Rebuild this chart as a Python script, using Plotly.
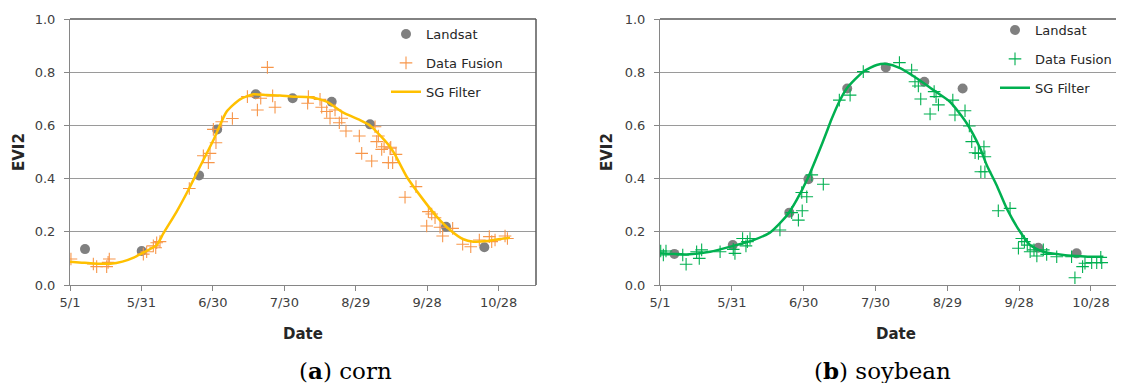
import plotly.graph_objects as go

# ---------------- data (x = days since May 1) ----------------
tick_days = [0, 30, 60, 90, 120, 150, 180]
tick_labels = ["5/1", "5/31", "6/30", "7/30", "8/29", "9/28", "10/28"]

corn_landsat_day = [6.3, 30.1, 54.2, 61.8, 78.0, 93.5, 109.9, 126.0, 157.9, 174.0]
corn_landsat_evi2 = [0.135, 0.128, 0.412, 0.585, 0.717, 0.702, 0.689, 0.604, 0.219, 0.142]

corn_fusion_day = [0.4, 9.8, 11.2, 15.4, 16.5, 16.0, 30.8, 32.2, 35.0, 36.4, 37.8, 36.0,
                   50.1, 56.0, 58.8, 58.1, 61.3, 60.2, 63.7, 68.2, 74.5, 78.7, 80.1, 82.9,
                   85.1, 86.1, 100.1, 99.8, 105.0, 105.7, 107.8, 109.2, 111.3, 113.1, 114.1,
                   115.9, 121.5, 128.1, 129.5, 128.8, 131.9, 134.4, 122.5, 126.7, 130.9,
                   133.7, 135.5, 134.7, 136.9, 140.7, 145.3, 150.5, 151.9, 153.3, 149.8,
                   155.4, 156.5, 160.7, 164.9, 168.3, 171.9, 176.1, 177.1, 178.5, 182.7, 183.7]
corn_fusion_evi2 = [0.098, 0.079, 0.069, 0.069, 0.098, 0.085, 0.116, 0.125, 0.147, 0.159, 0.163, 0.140,
                    0.363, 0.486, 0.495, 0.460, 0.535, 0.585, 0.614, 0.626, 0.708, 0.658, 0.702, 0.818,
                    0.711, 0.668, 0.708, 0.683, 0.698, 0.668, 0.652, 0.627, 0.658, 0.610, 0.627,
                    0.579, 0.560, 0.595, 0.560, 0.539, 0.520, 0.514, 0.495, 0.466, 0.510,
                    0.460, 0.460, 0.518, 0.491, 0.330, 0.370, 0.276, 0.267, 0.253, 0.222,
                    0.217, 0.184, 0.213, 0.153, 0.144, 0.169, 0.182, 0.163, 0.169, 0.184, 0.175]

corn_sg_day = [0, 5, 10, 17, 22, 27, 30.1, 36.4, 39.2, 44.8, 49.7, 53.2, 56, 60.5, 65.8, 71.4,
               77, 82.6, 88.2, 93.8, 100.8, 107.8, 114.8, 121.8, 126, 130.5, 134.4, 136.5,
               141.4, 148.4, 154, 159.6, 165.2, 169.4, 175, 180.6, 184.8]
corn_sg_evi2 = [0.087, 0.084, 0.081, 0.080, 0.088, 0.104, 0.119, 0.150, 0.194, 0.276, 0.357, 0.420,
                0.470, 0.550, 0.652, 0.698, 0.717, 0.714, 0.712, 0.708, 0.706, 0.689, 0.648,
                0.620, 0.600, 0.560, 0.520, 0.490, 0.407, 0.320, 0.257, 0.207, 0.172, 0.163,
                0.165, 0.173, 0.178]

soy_landsat_day = [6.0, 30.4, 54.0, 62.0, 78.2, 94.3, 110.4, 126.4, 158.0, 174.0]
soy_landsat_evi2 = [0.117, 0.150, 0.272, 0.398, 0.739, 0.818, 0.764, 0.739, 0.140, 0.119]

soy_fusion_day = [0.3, 1.4, 2.5, 9.5, 10.9, 15.3, 16.4, 17.4, 25.1, 30.6, 31.3, 34.5, 35.9,
                  36.5, 37.6, 50.1, 55.0, 57.8, 59.4, 59.2, 61.3, 63.4, 68.2, 74.9, 79.4,
                  84.9, 100.0, 105.1, 106.5, 107.9, 108.9, 112.8, 114.5, 115.3, 116.3, 122.3,
                  123.2, 127.4, 129.2, 130.2, 131.6, 133.0, 135.3, 135.7, 134.0, 135.7, 141.3,
                  146.2, 151.1, 152.2, 149.7, 153.4, 154.6, 156.2, 157.4, 160.1, 161.5, 165.7,
                  171.9, 173.3, 176.5, 177.5, 180.3, 182.4, 184.5, 184.1]
soy_fusion_evi2 = [0.128, 0.113, 0.128, 0.113, 0.078, 0.125, 0.100, 0.132, 0.125, 0.134, 0.119, 0.175, 0.147,
                   0.163, 0.175, 0.207, 0.272, 0.244, 0.279, 0.348, 0.332, 0.414, 0.379, 0.695, 0.714,
                   0.802, 0.836, 0.808, 0.764, 0.748, 0.699, 0.643, 0.727, 0.708, 0.677, 0.695,
                   0.639, 0.655, 0.598, 0.539, 0.497, 0.495, 0.520, 0.482, 0.426, 0.426, 0.279,
                   0.288, 0.175, 0.163, 0.138, 0.150, 0.125, 0.132, 0.109, 0.132, 0.115, 0.106,
                   0.106, 0.027, 0.069, 0.082, 0.084, 0.084, 0.084, 0.104]

soy_sg_day = [0, 11.1, 20.9, 30.6, 39, 45.9, 52.9, 57.1, 62, 66.1, 69.6, 71.5, 74.9, 78, 84.9,
              90.5, 94.7, 100.3, 107.2, 114.2, 121.1, 128.1, 133.7, 136.5, 140.6, 144.8,
              150.4, 154.6, 160.1, 168.5, 174, 179.6, 185.2]
soy_sg_evi2 = [0.119, 0.115, 0.125, 0.147, 0.169, 0.197, 0.260, 0.320, 0.407, 0.495, 0.575, 0.620,
               0.690, 0.739, 0.802, 0.827, 0.831, 0.815, 0.777, 0.733, 0.689, 0.608, 0.514,
               0.450, 0.375, 0.288, 0.200, 0.150, 0.125, 0.113, 0.109, 0.106, 0.106]

# ---------------- styling ----------------
PAGE_OFFSET = 8          # default body margin of the html page
W, H = 1124 - PAGE_OFFSET, 383 - PAGE_OFFSET
GRAY = "#808080"
ORANGE = "#F7964A"
GOLD = "#FFC000"
GREEN = "#00B050"
TICK_FONT = dict(family="DejaVu Sans", size=13, color="#404040")


def px_x(p):
    return (p - PAGE_OFFSET) / W


def px_y(p):
    return 1 - (p - PAGE_OFFSET) / H


fig = go.Figure()


def add_panel(xa, ya, leg, land_d, land_v, fus_d, fus_v, sg_d, sg_v, fus_col, sg_col):
    fig.add_trace(go.Scatter(x=land_d, y=land_v, mode="markers", name="Landsat",
                             marker=dict(symbol="circle", size=10, color=GRAY),
                             xaxis=xa, yaxis=ya, legend=leg, legendgroup=leg + "a"))
    fig.add_trace(go.Scatter(x=fus_d, y=fus_v, mode="markers", name="Data Fusion",
                             marker=dict(symbol="cross-thin", size=9, color=fus_col,
                                         line=dict(color=fus_col, width=1.1)),
                             xaxis=xa, yaxis=ya, legend=leg, legendgroup=leg + "b"))
    fig.add_trace(go.Scatter(x=sg_d, y=sg_v, mode="lines", name="SG Filter",
                             line=dict(color=sg_col, width=2.5, shape="spline", smoothing=0.6),
                             xaxis=xa, yaxis=ya, legend=leg, legendgroup=leg + "c"))


add_panel("x", "y", "legend", corn_landsat_day, corn_landsat_evi2, corn_fusion_day,
          corn_fusion_evi2, corn_sg_day, corn_sg_evi2, ORANGE, GOLD)
add_panel("x2", "y2", "legend2", soy_landsat_day, soy_landsat_evi2, soy_fusion_day,
          soy_fusion_evi2, soy_sg_day, soy_sg_evi2, GREEN, GREEN)

ydom = [px_y(285), px_y(19)]


def xaxis_cfg(dom, rng, anchor):
    return dict(domain=dom, range=rng, anchor=anchor, tickmode="array",
                tickvals=tick_days, ticktext=tick_labels, ticks="outside", ticklen=5,
                tickcolor="#868686", showline=True, linecolor="#868686", linewidth=1,
                showgrid=False, zeroline=False, tickfont=TICK_FONT, fixedrange=True,
                automargin=False)


def yaxis_cfg(anchor):
    return dict(domain=ydom, range=[0, 1], anchor=anchor, dtick=0.2, tick0=0,
                tickformat=".1f", ticks="outside", ticklen=5, tickcolor="#868686",
                showline=True, linecolor="#868686", linewidth=1, showgrid=True,
                gridcolor="#9A9A9A", gridwidth=1, zeroline=False, tickfont=TICK_FONT,
                ticklabelstandoff=6, fixedrange=True, automargin=False)


legend_common = dict(font=dict(family="DejaVu Sans", size=13, color="#262626"),
                     bgcolor="rgba(0,0,0,0)", borderwidth=0, tracegroupgap=9,
                     xanchor="left", yanchor="top", orientation="v")

annotations = []


def add_text(text, cx, cy, size, family, angle=0, color="#262626"):
    annotations.append(dict(text=text, x=px_x(cx), y=px_y(cy), xref="paper", yref="paper",
                            xanchor="center", yanchor="middle", showarrow=False,
                            textangle=angle, font=dict(family=family, size=size, color=color)))


for cx in [19, 607]:
    add_text("<b>EVI2</b>", cx, 152, 15, "DejaVu Sans", angle=-90)
for cx in [303, 896]:
    add_text("<b>Date</b>", cx, 334, 15, "DejaVu Sans")
for cx, cap in [(345, "(<b>a</b>) corn"), (882, "(<b>b</b>) soybean")]:
    add_text(cap, cx, 370, 23, "DejaVu Serif", color="#000000")

shapes = [
    dict(type="line", xref="x domain", yref="y domain", x0=0, x1=1, y0=1, y1=1,
         line=dict(color="#595959", width=1.5)),
    dict(type="line", xref="x domain", yref="y domain", x0=1, x1=1, y0=0, y1=1,
         line=dict(color="#595959", width=1.5)),
    dict(type="line", xref="x2 domain", yref="y2 domain", x0=0, x1=1, y0=1, y1=1,
         line=dict(color="#595959", width=1.5)),
]

fig.update_layout(
    width=W, height=H, margin=dict(l=0, r=0, t=0, b=0, autoexpand=False),
    paper_bgcolor="white", plot_bgcolor="white",
    xaxis=xaxis_cfg([px_x(70), px_x(536)], [0, 195.7], "y"),
    yaxis=yaxis_cfg("x"),
    xaxis2=xaxis_cfg([px_x(660), 1.0], [0, 193.8], "y2"),
    yaxis2=yaxis_cfg("x2"),
    legend=dict(x=px_x(386), y=px_y(19), **legend_common),
    legend2=dict(x=px_x(995), y=px_y(15), **legend_common),
    annotations=annotations,
    shapes=shapes,
    showlegend=True,
)

fig.write_html("out.html")
